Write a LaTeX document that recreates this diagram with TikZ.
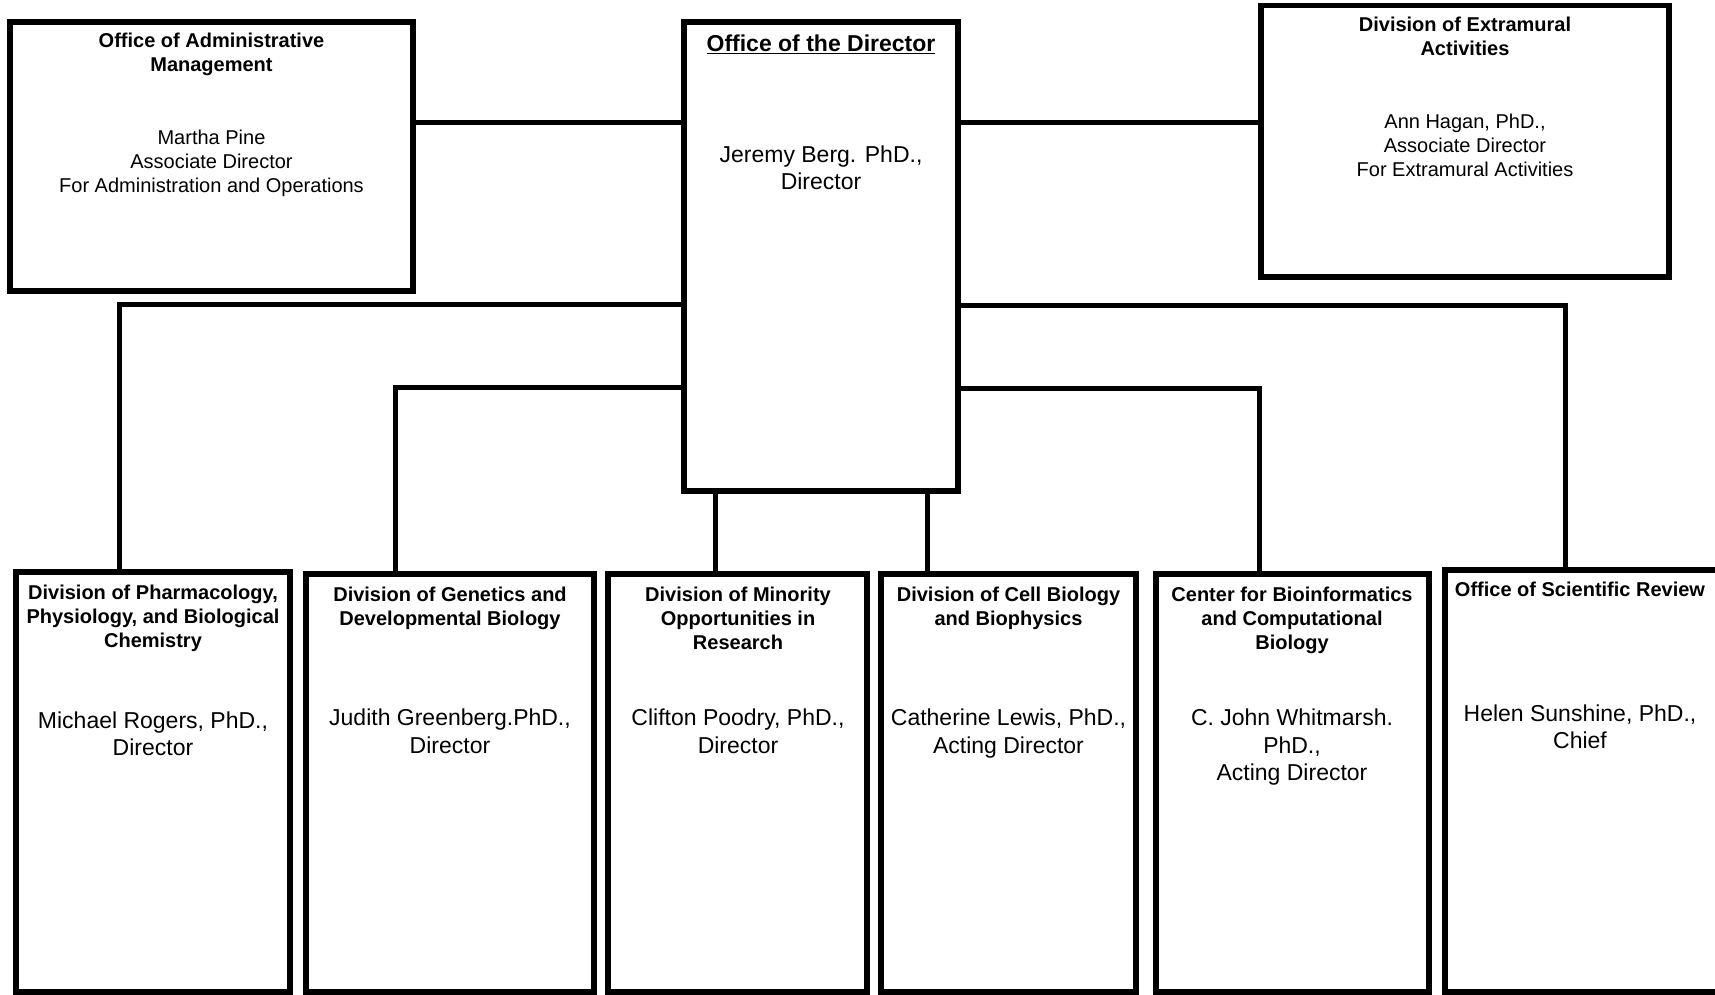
\documentclass[tikz,border=0pt]{standalone}
\usepackage{fontspec}
\setmainfont{Liberation Sans}
\begin{document}
\begin{tikzpicture}[x=1pt,y=-1pt,
  box/.style={draw=black, line width=5.5pt, rectangle, inner sep=0pt, outer sep=0pt},
  conn/.style={draw=black, line width=5pt, line join=miter},
  ttl/.style={anchor=north, align=center, inner sep=0pt, font=\fontsize{20}{24}\selectfont\bfseries},
  bdy/.style={anchor=north, align=center, inner sep=0pt, font=\fontsize{20}{24}\selectfont},
  bdyL/.style={anchor=north, align=center, inner sep=0pt, font=\fontsize{23}{27.3}\selectfont}]
\useasboundingbox (0,0) rectangle (1715,994);
\clip (0,0) rectangle (1715,994);
\fill[white] (0,0) rectangle (1715,994);
% boxes
\node[box, minimum width=403pt, minimum height=269pt] (admin) at (211.5,156.5) {};
\node[box, minimum width=274pt, minimum height=469pt] (dir) at (821,256.5) {};
\node[box, minimum width=408pt, minimum height=271.5pt] (extra) at (1465,141.25) {};
\node[box, minimum width=274pt, minimum height=420pt] (pharm) at (153,782) {};
\node[box, minimum width=288pt, minimum height=418pt] (gen) at (450,783) {};
\node[box, minimum width=259pt, minimum height=418pt] (mino) at (737.5,783) {};
\node[box, minimum width=255pt, minimum height=418pt] (cell) at (1008.5,783) {};
\node[box, minimum width=273pt, minimum height=418pt] (bioi) at (1292.5,783) {};
\node[box, minimum width=315pt, minimum height=422pt] (sci) at (1602.5,781) {};
% junction coordinates
\coordinate (jA) at (0,122.5);
\coordinate (jL1) at (119,304);
\coordinate (jL2) at (395,387);
\coordinate (jM) at (715,0);
\coordinate (jC) at (927.5,0);
\coordinate (jR1) at (1565,305);
\coordinate (jR2) at (1259,388);
% connectors
\draw[conn] (admin.east |- jA) -- (dir.west |- jA);
\draw[conn] (dir.east |- jA) -- (extra.west |- jA);
\draw[conn] (dir.west |- jL1) -| (jL1 |- pharm.north);
\draw[conn] (dir.west |- jL2) -| (jL2 |- gen.north);
\draw[conn] (dir.south -| jM) -- (mino.north -| jM);
\draw[conn] (dir.south -| jC) -- (cell.north -| jC);
\draw[conn] (dir.east |- jR1) -| (jR1 |- sci.north);
\draw[conn] (dir.east |- jR2) -| (jR2 |- bioi.north);
% texts: top row
\node[ttl] (adminT) at (211.5,32.6) {Office of Administrative\\Management};
\node[bdy] (adminB) at (211.5,129.6) {Martha Pine\\Associate Director\\For Administration and Operations};
\node[ttl, font=\fontsize{23}{27}\selectfont\bfseries] (dirT) at (821,34.5) {\underline{Office of the Director}};
\node[bdyL] (dirB) at (821,145.5) {Jeremy Berg. PhD.,\\Director};
\node[ttl] (extraT) at (1465,16.6) {Division of Extramural\\Activities};
\node[bdy] (extraB) at (1465,113.6) {Ann Hagan, PhD.,\\Associate Director\\For Extramural Activities};
% texts: bottom row
\node[ttl] (pharmT) at (153,584.6) {Division of Pharmacology,\\Physiology, and Biological\\Chemistry};
\node[bdyL] (pharmB) at (153,711.5) {Michael Rogers, PhD.,\\Director};
\node[ttl] (genT) at (450,586.6) {Division of Genetics and\\Developmental Biology};
\node[bdyL] (genB) at (450,709) {Judith Greenberg.PhD.,\\Director};
\node[ttl] (minoT) at (738,586.6) {Division of Minority\\Opportunities in\\Research};
\node[bdyL] (minoB) at (738,709) {Clifton Poodry, PhD.,\\Director};
\node[ttl] (cellT) at (1008.5,586.6) {Division of Cell Biology\\and Biophysics};
\node[bdyL] (cellB) at (1008.5,709) {Catherine Lewis, PhD.,\\Acting Director};
\node[ttl] (bioiT) at (1292,586.6) {Center for Bioinformatics\\and Computational\\Biology};
\node[bdyL] (bioiB) at (1292,709) {C. John Whitmarsh.\\PhD.,\\Acting Director};
\node[ttl] (sciT) at (1580,582) {Office of Scientific Review};
\node[bdyL] (sciB) at (1580,704.5) {Helen Sunshine, PhD.,\\Chief};
\end{tikzpicture}
\end{document}
